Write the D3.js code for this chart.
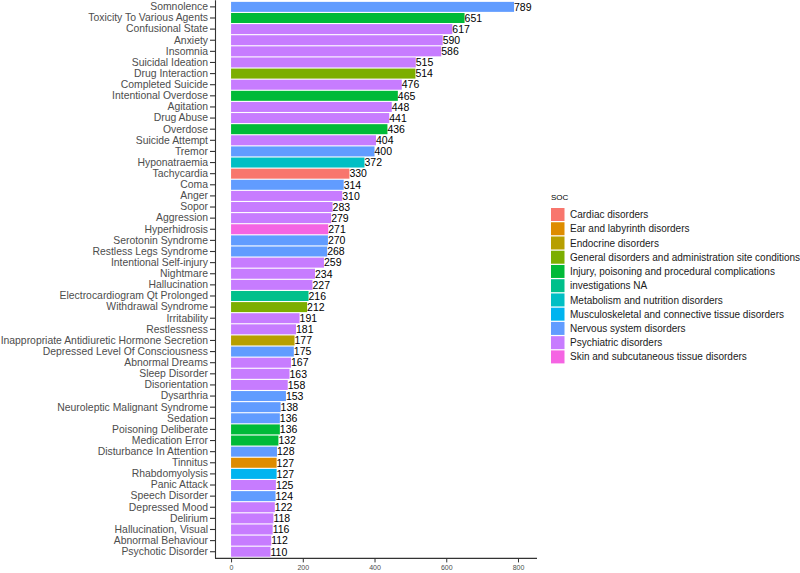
<!DOCTYPE html>
<html>
<head>
<meta charset="utf-8">
<script src="https://cdn.jsdelivr.net/npm/d3@7"></script>
<style>
  body { margin: 0; background: #fff; }
  svg { font-family: "Liberation Sans", Arial, sans-serif; }
</style>
</head>
<body>
<svg id="chart" width="800" height="573"></svg>
<script>
// adverse events, most reported first
const events = [
  "Somnolence", "Toxicity To Various Agents", "Confusional State", "Anxiety", "Insomnia",
  "Suicidal Ideation", "Drug Interaction", "Completed Suicide", "Intentional Overdose", "Agitation",
  "Drug Abuse", "Overdose", "Suicide Attempt", "Tremor", "Hyponatraemia",
  "Tachycardia", "Coma", "Anger", "Sopor", "Aggression",
  "Hyperhidrosis", "Serotonin Syndrome", "Restless Legs Syndrome", "Intentional Self-injury", "Nightmare",
  "Hallucination", "Electrocardiogram Qt Prolonged", "Withdrawal Syndrome", "Irritability", "Restlessness",
  "Inappropriate Antidiuretic Hormone Secretion", "Depressed Level Of Consciousness", "Abnormal Dreams", "Sleep Disorder", "Disorientation",
  "Dysarthria", "Neuroleptic Malignant Syndrome", "Sedation", "Poisoning Deliberate", "Medication Error",
  "Disturbance In Attention", "Tinnitus", "Rhabdomyolysis", "Panic Attack", "Speech Disorder",
  "Depressed Mood", "Delirium", "Hallucination, Visual", "Abnormal Behaviour", "Psychotic Disorder"
];

const counts = [
  789, 651, 617, 590, 586,
  515, 514, 476, 465, 448,
  441, 436, 404, 400, 372,
  330, 314, 310, 283, 279,
  271, 270, 268, 259, 234,
  227, 216, 212, 191, 181,
  177, 175, 167, 163, 158,
  153, 138, 136, 136, 132,
  128, 127, 127, 125, 124,
  122, 118, 116, 112, 110
];

// index into socNames for every event
const socOf = [
  8, 4, 9, 9, 9,
  9, 3, 9, 4, 9,
  9, 4, 9, 8, 6,
  0, 8, 9, 9, 9,
  10, 8, 8, 9, 9,
  9, 5, 3, 9, 9,
  2, 8, 9, 9, 9,
  8, 8, 8, 4, 4,
  8, 1, 7, 9, 8,
  9, 9, 9, 9, 9
];

const socNames = [
  "Cardiac disorders",
  "Ear and labyrinth disorders",
  "Endocrine disorders",
  "General disorders and administration site conditions",
  "Injury, poisoning and procedural complications",
  "investigations NA",
  "Metabolism and nutrition disorders",
  "Musculoskeletal and connective tissue disorders",
  "Nervous system disorders",
  "Psychiatric disorders",
  "Skin and subcutaneous tissue disorders"
];

const socColors = [
  "#F8766D", "#DE8C00", "#B79F00", "#7CAE00", "#00BA38", "#00C08B",
  "#00BFC4", "#00B4F0", "#619CFF", "#C77CFF", "#F564E3"
];

const xTicks = [0, 200, 400, 600, 800];

const svg = d3.select("#chart");

// panel edges
const panel = { left: 216, right: 537, top: 0.2, bottom: 558.4 };

const x = d3.scaleLinear()
  .domain([-42, 853])
  .range([panel.left, panel.right]);

const y = d3.scaleBand()
  .domain(events)
  .range([panel.top, panel.bottom])
  .paddingInner(0.1)
  .paddingOuter(0.15);

const color = d3.scaleOrdinal().domain(socNames).range(socColors);

const rows = events.map((name, i) => ({ name: name, value: counts[i], soc: socNames[socOf[i]] }));

// bars
svg.append("g")
  .selectAll("rect")
  .data(rows)
  .join("rect")
    .attr("x", x(0))
    .attr("y", d => y(d.name))
    .attr("width", d => x(d.value) - x(0))
    .attr("height", y.bandwidth())
    .attr("fill", d => color(d.soc));

// value labels
svg.append("g")
  .selectAll("text")
  .data(rows)
  .join("text")
    .attr("x", d => x(d.value))
    .attr("y", d => y(d.name) + y.bandwidth() / 2)
    .attr("dy", "0.36em")
    .attr("font-size", "10.5px")
    .attr("fill", "#000")
    .text(d => d.value);

// y axis
const yAxis = svg.append("g")
  .attr("transform", `translate(${panel.left},0)`)
  .call(d3.axisLeft(y).tickSize(6).tickPadding(2).tickSizeOuter(0));
yAxis.select(".domain").attr("d", `M-0.5,${panel.top}V${panel.bottom}`).attr("stroke", "#333").attr("stroke-width", 1.1);
yAxis.selectAll(".tick line").attr("stroke", "#333").attr("stroke-width", 1.1);
yAxis.selectAll(".tick text")
  .attr("font-size", "10.4px")
  .attr("font-family", "Liberation Sans, Arial, sans-serif")
  .attr("fill", "#4d4d4d");

// x axis
const xAxis = svg.append("g")
  .attr("transform", `translate(0,${panel.bottom})`)
  .call(d3.axisBottom(x).tickValues(xTicks).tickSize(4).tickPadding(3).tickSizeOuter(0));
xAxis.select(".domain").attr("d", `M${panel.left - 1},0H${panel.right}`).attr("stroke", "#333").attr("stroke-width", 1.1);
xAxis.selectAll(".tick line").attr("stroke", "#333");
xAxis.selectAll(".tick text")
  .attr("font-size", "7px")
  .attr("font-family", "Liberation Sans, Arial, sans-serif")
  .attr("fill", "#4d4d4d");

// legend
const legend = svg.append("g").attr("transform", "translate(551,0)");
legend.append("text")
  .attr("x", 0)
  .attr("y", 200)
  .attr("font-size", "8px")
  .attr("fill", "#000")
  .text("SOC");

const step = 14.24;
const items = legend.selectAll("g.item")
  .data(socNames)
  .join("g")
    .attr("class", "item")
    .attr("transform", (d, i) => `translate(0,${208 + i * step})`);

items.append("rect")
  .attr("width", 13.5)
  .attr("height", 13)
  .attr("fill", d => color(d));

items.append("text")
  .attr("x", 19)
  .attr("y", 6.5)
  .attr("dy", "0.36em")
  .attr("font-size", "10px")
  .attr("fill", "#1a1a1a")
  .text(d => d);
</script>
</body>
</html>
